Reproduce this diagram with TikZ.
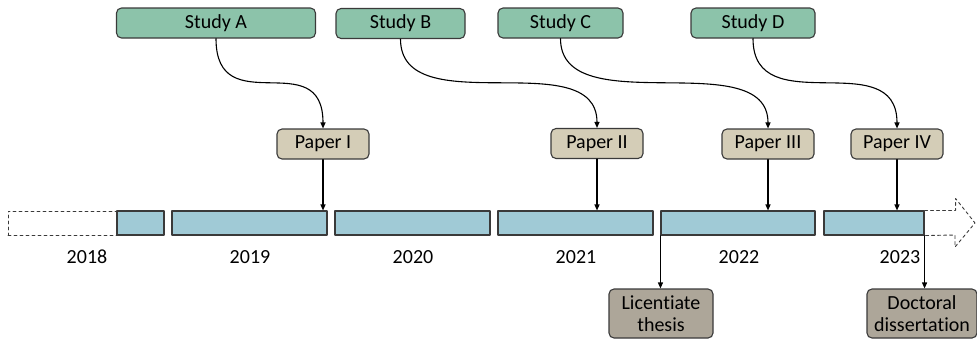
\documentclass[tikz,border=0pt]{standalone}
\usepackage{fontspec}
\setmainfont{Carlito}[Ligatures=NoCommon]
\usetikzlibrary{arrows.meta}
\definecolor{studygreen}{HTML}{8CC3AA}
\definecolor{papertan}{HTML}{D4CDB7}
\definecolor{thesisgray}{HTML}{ADA699}
\definecolor{yearblue}{HTML}{A0CAD6}
\definecolor{edgegray}{HTML}{3A3A3A}
\begin{document}
\begin{tikzpicture}[x=1pt,y=-1pt,>={Triangle[length=6pt,width=5pt]},line cap=round,line join=round,
  box/.style={draw=edgegray,line width=1.1pt,rounded corners=5pt,inner sep=0pt,minimum height=30pt,font=\fontsize{20}{22}\selectfont},
  studybox/.style={box,fill=studygreen},
  paperbox/.style={box,fill=papertan,minimum width=92pt},
  thesisbox/.style={box,fill=thesisgray,minimum height=49pt,align=center,font=\fontsize{20}{22}\selectfont},
  yearbar/.style={draw=edgegray,line width=1.1pt,fill=yearblue,inner sep=0pt,minimum height=24pt},
  yearlabel/.style={inner sep=0pt,font=\fontsize{20}{22}\selectfont},
  link/.style={->,line width=1.1pt,black}]
\useasboundingbox (0,0) rectangle (977,338);
\clip (0,0) rectangle (977,338.5);
% studies
\node[studybox,minimum width=199pt] (studyA) at (216,23) {Study A};
\node[studybox,minimum width=129pt] (studyB) at (400.5,23.5) {Study B};
\node[studybox,minimum width=125pt] (studyC) at (560.5,23) {Study C};
\node[studybox,minimum width=124pt] (studyD) at (753,23) {Study D};
% papers
\node[paperbox] (paperI) at (323,144) {Paper I};
\node[paperbox] (paperII) at (597,143.5) {Paper II};
\node[paperbox] (paperIII) at (768,144) {Paper III};
\node[paperbox] (paperIV) at (897,144) {Paper IV};
% timeline
\node[yearbar,minimum width=109pt,fill=white,dashed,line width=0.9pt] (past) at (62.5,223) {};
\node[yearbar,minimum width=47pt] (bar18) at (140.5,223) {};
\node[yearbar,minimum width=155pt] (bar19) at (249.5,223) {};
\node[yearbar,minimum width=155pt] (bar20) at (412.5,223) {};
\node[yearbar,minimum width=155pt] (bar21) at (575.5,223) {};
\node[yearbar,minimum width=154pt] (bar22) at (738,223) {};
\node[yearbar,minimum width=100pt] (bar23) at (874,223) {};
\draw[dashed,line width=0.9pt,edgegray] (bar23.north east) -- ++(31,0) -- ++(0,-12) -- (975,223) -- (955,247) -- ++(0,-12) -- (bar23.south east);
\node[yearlabel] (y18) at (87,257) {2018};
\node[yearlabel] (y19) at (250,257) {2019};
\node[yearlabel] (y20) at (413,257) {2020};
\node[yearlabel] (y21) at (576,257) {2021};
\node[yearlabel] (y22) at (739,257) {2022};
\node[yearlabel] (y23) at (900,257) {2023};
% theses
\node[thesisbox,minimum width=104pt] (lic) at (661,313.5) {Licentiate\\thesis};
\node[thesisbox,minimum width=110pt] (doc) at (922,313.5) {Doctoral\\dissertation};
% studies to papers
\draw[link] (studyA.south) .. controls +(0,85) and +(0,-85) .. (paperI.north);
\draw[link] (studyB.south) .. controls +(0,85) and +(0,-85) .. (paperII.north);
\draw[link] (studyC.south) .. controls +(0,85) and +(0,-85) .. (paperIII.north);
\draw[link] (studyD.south) .. controls +(0,85) and +(0,-85) .. (paperIV.north);
% papers to years
\draw[link] (paperI.south) -- (paperI.south |- bar19.north);
\draw[link] (paperII.south) -- (paperII.south |- bar21.north);
\draw[link] (paperIII.south) -- (paperIII.south |- bar22.north);
\draw[link] (paperIV.south) -- (paperIV.south |- bar23.north);
% years to theses
\draw[link] (bar22.south west) -- (bar22.south west |- lic.north);
\draw[link] (bar23.south east) -- (bar23.south east |- doc.north);
\end{tikzpicture}
\end{document}
